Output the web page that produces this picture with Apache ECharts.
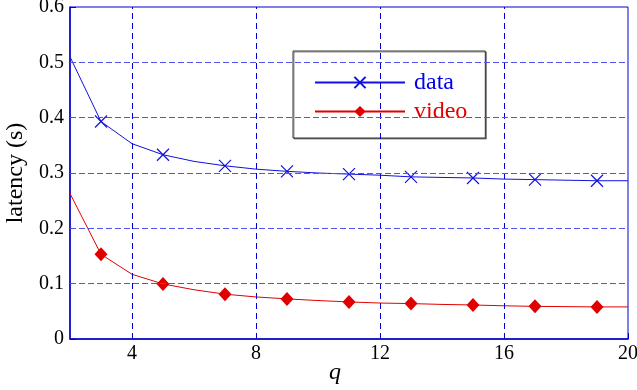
<!DOCTYPE html>
<html>
<head>
<meta charset="utf-8">
<script src="https://cdn.jsdelivr.net/npm/echarts@6/dist/echarts.min.js"></script>
<style>
  html, body { margin: 0; padding: 0; background: #fff; }
  #main { width: 637px; height: 390px; }
</style>
</head>
<body>
<div id="main"></div>
<script>
// q 取值
const qValues = [2, 3, 4, 5, 6, 7, 8, 9, 10, 11, 12, 13, 14, 15, 16, 17, 18, 19, 20]
// data 时延
const dataLatency = [0.510, 0.393, 0.353, 0.333, 0.321, 0.313, 0.307, 0.303, 0.300, 0.298,
  0.296, 0.293, 0.292, 0.291, 0.289, 0.288, 0.287, 0.286, 0.286]
// video 时延
const videoLatency = [0.263, 0.153, 0.117, 0.0995, 0.089, 0.081, 0.076, 0.0725, 0.0695, 0.067,
  0.065, 0.064, 0.0625, 0.0615, 0.060, 0.059, 0.0585, 0.058, 0.058]
// 标记点所在的 q
const markerQ = [3, 5, 7, 9, 11, 13, 15, 17, 19]
const xTicks = [4, 8, 12, 16, 20]
const xGridLines = [4, 8, 12, 16]
const yGridLines = [0.1, 0.2, 0.3, 0.4, 0.5]

const crossPath = 'path://M0,0L10,10M10,0L0,10'
const serif = 'Liberation Serif'

let toItems = (vals) => qValues.map((q, i) => {
  let item = { value: [q, vals[i]] }
  if (markerQ.indexOf(q) < 0) {
    item.symbol = 'none'
  }
  return item
})

let chart = echarts.init(document.getElementById('main'))
let option = {
  animation: false,
  grid: {
    left: 70,
    right: 9,
    top: 7,
    bottom: 51,
    containLabel: false,
    outerBoundsMode: 'none',
    show: true,
    borderColor: '#0000cc',
    borderWidth: 1
  },
  legend: {
    left: 293,
    top: 51,
    orient: 'vertical',
    padding: [19, 18, 14, 21],
    itemGap: 4,
    itemWidth: 90,
    itemHeight: 14,
    backgroundColor: '#fff',
    borderColor: '#333',
    borderWidth: 1,
    borderRadius: 0,
    shadowColor: 'rgba(0,0,0,0.45)',
    shadowOffsetX: 1,
    shadowOffsetY: 1,
    shadowBlur: 0,
    textStyle: {
      fontFamily: serif,
      fontSize: 24,
      lineHeight: 25,
      padding: [0, 0, 0, 4]
    },
    data: [
      { name: 'data', textStyle: { color: '#0000ee' } },
      { name: 'video', textStyle: { color: '#e00000' } }
    ]
  },
  xAxis: {
    type: 'value',
    min: 2,
    max: 20,
    name: 'q',
    nameLocation: 'middle',
    nameGap: 22,
    nameMoveOverlap: false,
    nameTextStyle: {
      fontFamily: serif,
      fontStyle: 'italic',
      fontSize: 24,
      color: '#000',
      padding: [0, 28, 0, 0]
    },
    axisLine: {
      lineStyle: { color: '#0000cc', width: 1.5 }
    },
    axisTick: {
      inside: true,
      length: 6,
      customValues: xTicks,
      lineStyle: { color: '#0000cc' }
    },
    axisLabel: {
      customValues: xTicks,
      margin: 5,
      fontFamily: serif,
      fontSize: 20,
      color: '#000'
    },
    splitLine: {
      show: false
    }
  },
  yAxis: {
    type: 'value',
    min: 0,
    max: 0.6,
    interval: 0.1,
    name: 'latency (s)',
    nameLocation: 'middle',
    nameGap: 42,
    nameTextStyle: {
      fontFamily: serif,
      fontSize: 24,
      color: '#000'
    },
    axisLine: {
      show: true,
      lineStyle: { color: '#0000cc', width: 1.5 }
    },
    axisTick: {
      show: true,
      inside: true,
      length: 6,
      lineStyle: { color: '#0000cc' }
    },
    axisLabel: {
      margin: 6,
      fontFamily: serif,
      fontSize: 20,
      color: '#000',
      formatter: (v) => v === 0 ? '0' : v.toFixed(1)
    },
    splitLine: {
      show: false
    }
  },
  series: [
    {
      name: 'data',
      type: 'line',
      data: toItems(dataLatency),
      symbol: crossPath,
      symbolSize: 12,
      showAllSymbol: true,
      itemStyle: {
        color: 'rgba(0,0,0,0)',
        borderColor: '#1010e0',
        borderWidth: 1.2
      },
      lineStyle: { color: '#1010e0', width: 1 },
      // 竖向网格线
      markLine: {
        silent: true,
        symbol: 'none',
        label: { show: false },
        lineStyle: { color: '#0000cc', type: [6, 4], width: 1 },
        data: xGridLines.map(v => ({ xAxis: v }))
      },
      z: 3
    },
    {
      name: 'video',
      type: 'line',
      data: toItems(videoLatency),
      symbol: 'diamond',
      symbolSize: [13, 14],
      showAllSymbol: true,
      itemStyle: { color: '#e00000' },
      lineStyle: { color: '#e00000', width: 1 },
      // 横向网格线
      markLine: {
        silent: true,
        symbol: 'none',
        label: { show: false },
        lineStyle: { color: '#5252ee', type: [6, 3], width: 1 },
        data: yGridLines.map(v => ({ yAxis: v }))
      },
      z: 3
    }
  ]
}
chart.setOption(option)
</script>
</body>
</html>
